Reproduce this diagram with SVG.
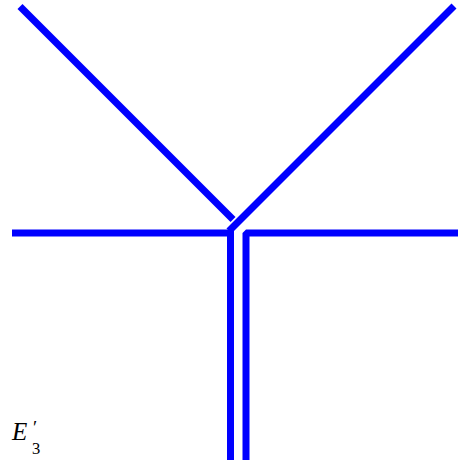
<svg xmlns="http://www.w3.org/2000/svg" width="459" height="463" viewBox="0 0 459 463">
<style>
.s{fill:none;stroke:#0000ff;stroke-width:7;stroke-linecap:butt}
.lbl{font-family:"Liberation Serif","DejaVu Serif",serif;fill:#000}
</style>
<rect width="459" height="463" fill="#fff"/>
<g id="connectors">
<path id="left-piece" class="s" stroke-linejoin="miter" d="M12 233 H230.5 V460"/>
<path id="right-piece" class="s" stroke-linejoin="bevel" d="M246 460 V233 H458"/>
<line id="ne-arm" class="s" x1="454" y1="6" x2="229" y2="231"/>
<line id="nw-arm" class="s" x1="20" y1="6.5" x2="233" y2="219.5"/>
</g>
<g id="label">
<text class="lbl" x="12" y="440"><tspan font-style="italic" font-size="25">E</tspan><tspan font-size="19" x="33" y="434">′</tspan></text>
<text class="lbl" x="32" y="453.5" font-size="16.5">3</text>
</g>
</svg>
